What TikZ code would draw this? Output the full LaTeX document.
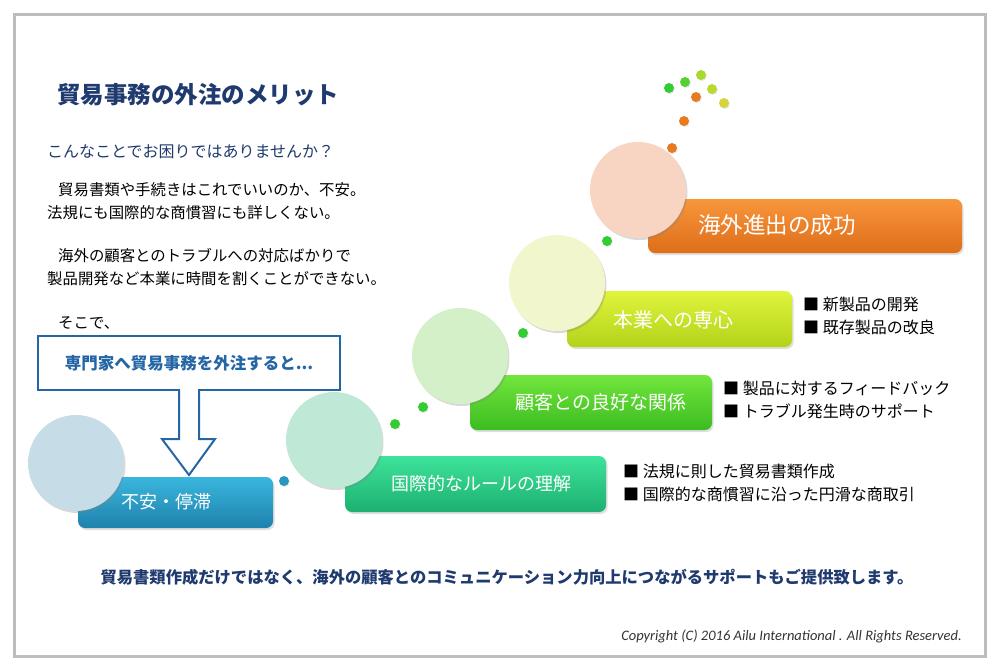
\documentclass[tikz,border=0pt]{standalone}
\usepackage{fontspec}
\setmainfont{Noto Sans CJK JP}
\newfontfamily\copyfont{Carlito}
\usetikzlibrary{positioning,shadows}
\definecolor{navy}{HTML}{1F3A6E}
\definecolor{boxblue}{HTML}{2466A5}
\definecolor{frame}{HTML}{BDBDBD}
\definecolor{tealtop}{HTML}{3AB6DE}
\definecolor{tealbot}{HTML}{1E82AC}
\definecolor{mintop}{HTML}{3EE39A}
\definecolor{minbot}{HTML}{1CB070}
\definecolor{grntop}{HTML}{72E63C}
\definecolor{grnbot}{HTML}{3CBC22}
\definecolor{limtop}{HTML}{E0F43C}
\definecolor{limbot}{HTML}{B4D21A}
\definecolor{orgtop}{HTML}{F8963C}
\definecolor{orgbot}{HTML}{DE6E1A}
\definecolor{bub1}{HTML}{C6DCE6}
\definecolor{bub2}{HTML}{BFE8D6}
\definecolor{bub3}{HTML}{D3F0C8}
\definecolor{bub4}{HTML}{F1F6CC}
\definecolor{bub5}{HTML}{F8D4C3}
\definecolor{dteal}{HTML}{2A95C0}
\definecolor{dgreen}{HTML}{33CC33}
\definecolor{dlime}{HTML}{A6DA2C}
\definecolor{dyel}{HTML}{D6D43A}
\definecolor{dorange}{HTML}{EA7A20}
\tikzset{
  stepbar/.style={rounded corners=7pt, inner sep=0pt,
                  drop shadow={shadow xshift=1.5pt, shadow yshift=-2pt, opacity=.25}},
  bartext/.style={text=white, inner sep=0pt},
  bubble/.style={circle, minimum size=96pt, inner sep=0pt,
                 drop shadow={shadow xshift=1.5pt, shadow yshift=-2pt, opacity=.3}},
  dot/.style={circle, minimum size=10pt, inner sep=0pt,
              drop shadow={shadow xshift=.8pt, shadow yshift=-1pt, opacity=.2}},
  para/.style={anchor=west, align=left, inner sep=0pt, text=black,
               font=\fontsize{15.4}{23}\selectfont},
  bullets/.style={anchor=west, align=left, inner sep=0pt, text=black,
                  font=\fontsize{16}{23}\selectfont},
  callarrow/.style={draw=boxblue, fill=white, line width=2pt, line join=miter},
}

\begin{document}
\begin{tikzpicture}[x=1pt, y=-1pt]
  \useasboundingbox (0,0) rectangle (1000,670);
  \draw[frame, line width=3pt] (14,14) rectangle (985,656);

  % heading and left text
  \node[anchor=west, inner sep=0pt, text=navy, font=\fontsize{23.5}{28}\selectfont\bfseries]
    (title) at (57,95) {貿易事務の外注のメリット};
  \node[anchor=west, inner sep=0pt, text=navy, font=\fontsize{16}{20}\selectfont]
    (ask1) at (47,152) {こんなことでお困りではありませんか？};
  \node[para] (p1) at (47,201) {\hspace*{11pt}貿易書類や手続きはこれでいいのか、不安。\\法規にも国際的な商慣習にも詳しくない。};
  \node[para] (p2) at (47,267) {\hspace*{11pt}海外の顧客とのトラブルへの対応ばかりで\\製品開発など本業に時間を割くことができない。};
  \node[para] (p3) at (47,323) {\hspace*{11pt}そこで、};

  % callout box with block arrow
  \node[draw=boxblue, line width=2pt, fill=white, minimum width=302pt, minimum height=54pt,
        text=boxblue, font=\fontsize{16.5}{20}\selectfont\bfseries] (ask) at (189,363)
    {専門家へ貿易事務を外注すると...};
  \filldraw[callarrow] ([xshift=-10pt, yshift=2pt]ask.south) -- ++(0,50) -- ++(-17,0)
    -- ++(27,36) -- ++(26,-36) -- ++(-16,0) -- ++(0,-50);

  % steps
  \node[stepbar, top color=tealtop, bottom color=tealbot, minimum width=195pt, minimum height=51pt]
    (s1) at (175.5,502.5) {};
  \node[stepbar, top color=mintop, bottom color=minbot, minimum width=261pt, minimum height=56pt]
    (s2) at (475.5,484) {};
  \node[stepbar, top color=grntop, bottom color=grnbot, minimum width=242pt, minimum height=55pt]
    (s3) at (591,402.5) {};
  \node[stepbar, top color=limtop, bottom color=limbot, minimum width=225pt, minimum height=56pt]
    (s4) at (679.5,319) {};
  \node[stepbar, top color=orgtop, bottom color=orgbot, minimum width=314pt, minimum height=54pt]
    (s5) at (805,226) {};

  \node[bubble, fill=bub1] (c1) at (76,463) {};
  \node[bubble, fill=bub2] (c2) at (334,440) {};
  \node[bubble, fill=bub3] (c3) at (460,356) {};
  \node[bubble, fill=bub4] (c4) at (557,283) {};
  \node[bubble, fill=bub5] (c5) at (638,190) {};

  \node[bartext, font=\fontsize{18}{22}\selectfont] (t1) at (166,502) {不安・停滞};
  \node[bartext, font=\fontsize{18}{22}\selectfont] (t2) at (481,484) {国際的なルールの理解};
  \node[bartext, font=\fontsize{19}{23}\selectfont] (t3) at (601,402) {顧客との良好な関係};
  \node[bartext, font=\fontsize{20}{24}\selectfont] (t4) at (673,320) {本業への専心};
  \node[bartext, font=\fontsize{22.5}{26}\selectfont] (t5) at (777,225) {海外進出の成功};

  % small dots
  \node[dot, fill=dteal] (d1) at (284,481) {};
  \node[dot, fill=dgreen] (d2) at (395,424) {};
  \node[dot, fill=dgreen] (d3) at (423,407) {};
  \node[dot, fill=dgreen] (d4) at (523,333) {};
  \node[dot, fill=dgreen] (d5) at (607,241) {};
  \node[dot, fill=dorange] (d6) at (672,148) {};
  \node[dot, fill=dorange] (d7) at (684,121) {};
  \node[dot, fill=dorange] (d8) at (696,97) {};
  \node[dot, fill=dgreen] (d9) at (669,88) {};
  \node[dot, fill=dgreen!70!dlime] (d10) at (685,82) {};
  \node[dot, fill=dlime] (d11) at (701,75) {};
  \node[dot, fill=dlime!60!dyel] (d12) at (712,89) {};
  \node[dot, fill=dyel] (d13) at (724,103) {};

  % bullet lists
  \node[bullets] (b4) at (803,316) {■ 新製品の開発\\■ 既存製品の改良};
  \node[bullets] (b3) at (723,400) {■ 製品に対するフィードバック\\■ トラブル発生時のサポート};
  \node[bullets] (b2) at (623,483) {■ 法規に則した貿易書類作成\\■ 国際的な商慣習に沿った円滑な商取引};

  % footer
  \node[inner sep=0pt, text=navy, font=\fontsize{16.3}{20}\selectfont\bfseries] (sum) at (507,577)
    {貿易書類作成だけではなく、海外の顧客とのコミュニケーション力向上につながるサポートもご提供致します。};
  \node[anchor=east, inner sep=0pt, text=black!80, font=\copyfont\itshape\fontsize{14.5}{17}\selectfont]
    (copy) at (962,636) {Copyright (C) 2016 Ailu International . All Rights Reserved.};
\end{tikzpicture}
\end{document}
